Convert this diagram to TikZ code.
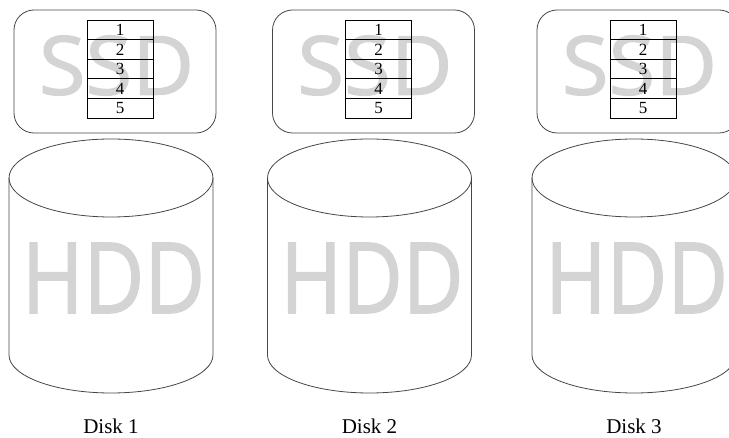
\documentclass[tikz,border=0pt]{standalone}
\usepackage{fontspec}
\setmainfont{Liberation Serif}
\newfontfamily\marksans[FakeBold=1.6]{Open Sans}
\definecolor{markgray}{RGB}{212,212,212}
\definecolor{edgegray}{RGB}{70,70,70}
\begin{document}
\begin{tikzpicture}
  [x=1pt,y=-1pt,every node/.style={inner sep=0pt,outer sep=0pt}]
  \tikzstyle{ssdbox} = [draw=edgegray,line width=0.8pt,rounded corners=20pt]
  \tikzstyle{cyl} = [draw=edgegray,line width=0.8pt]
  \tikzstyle{slot} = [draw,line width=0.8pt,rectangle,minimum width=66pt,minimum height=19.6pt,font=\fontsize{17}{17}\selectfont]
  \tikzstyle{watermark} = [text=markgray,anchor=center]
  \tikzstyle{disklabel} = [anchor=base,font=\fontsize{21}{21}\selectfont]
  \useasboundingbox (0,0) rectangle (729,438);
  \clip (0,0) rectangle (729,438);

\foreach \d/\dx in {1/0,2/258.5,3/523} {
  \begin{scope}[xshift=\dx]
    % ssd part
    \node[watermark] (ssd\d) at (116.5,65.5) {\resizebox{155pt}{59pt}{\marksans SSD}};
    \draw[ssdbox] (14,10) rectangle (216,133);
    \foreach \r in {1,...,5}
      \node[slot] (s\d\r) at (120,{10.2+19.6*\r}) {\r};
    % hdd part
    \node[watermark] (hdd\d) at (113.5,278) {\resizebox{183pt}{70pt}{\marksans HDD}};
    \draw[cyl] (111,178) ellipse [x radius=102,y radius=39];
    \draw[cyl] (9,178) -- (9,355) arc [start angle=180,end angle=360,x radius=102,y radius=-38] -- (213,178);
    \node[disklabel] (disk\d) at (111,434) {Disk \d};
  \end{scope}
}
\end{tikzpicture}
\end{document}
